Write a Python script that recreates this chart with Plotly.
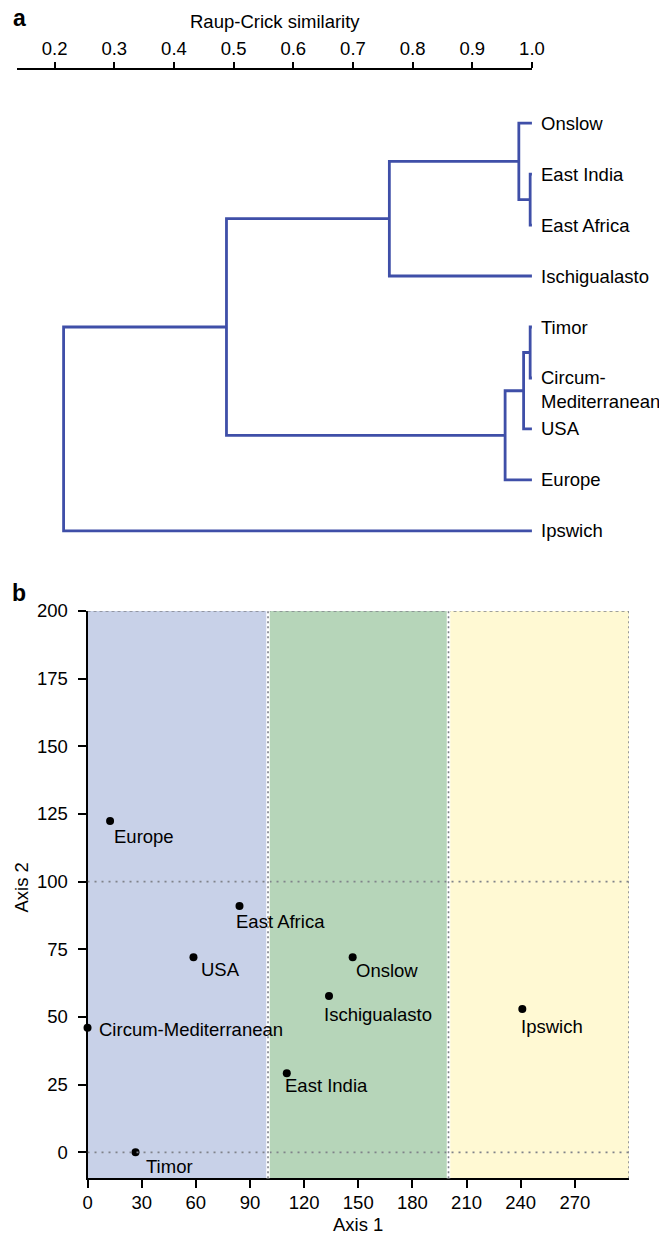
import plotly.graph_objects as go

# The page is photographed with a small fixed offset/scale; positions below are given
# in final picture pixels and converted to page pixels.
SX, OX = 0.973, 3.6
SY, OY = 0.9914, 10.6
FIG_W, FIG_H = 674, 1236
FONT = "Liberation Sans, Arial, Helvetica, sans-serif"
FS = 18.5

# ---------------- Panel a: dendrogram data ----------------
leaf_names = ["Onslow", "East India", "East Africa", "Ischigualasto", "Timor",
              "Circum-Mediterranean", "USA", "Europe", "Ipswich"]
leaf_labels = ["Onslow", "East India", "East Africa", "Ischigualasto", "Timor",
               "Circum-<br>Mediterranean", "USA", "Europe", "Ipswich"]
# linkage: clusters 0..8 are leaves, new clusters numbered from 9
merge_a = [1, 0, 10, 4, 12, 13, 11, 15]
merge_b = [2, 9, 3, 5, 6, 7, 14, 8]
merge_sim = [0.997, 0.978, 0.761, 0.997, 0.986, 0.955, 0.488, 0.215]
sim_ticks = [0.2, 0.3, 0.4, 0.5, 0.6, 0.7, 0.8, 0.9, 1.0]
sim_ticktext = ["0.2", "0.3", "0.4", "0.5", "0.6", "0.7", "0.8", "0.9", "1.0"]

# ---------------- Panel b: ordination data ----------------
ord_names = ["Europe", "East Africa", "USA", "Circum-Mediterranean", "Timor",
             "Onslow", "Ischigualasto", "East India", "Ipswich"]
axis1 = [12.5, 84.2, 58.7, 0.0, 26.6, 146.9, 133.8, 110.4, 240.9]
axis2 = [122.4, 91.0, 72.1, 46.0, 0.0, 72.1, 57.8, 29.2, 53.0]
region_edges = [0, 100, 200, 300]
grid_levels = [0, 100, 200]
x_ticks = [0, 30, 60, 90, 120, 150, 180, 210, 240, 270]
y_ticks = [0, 25, 50, 75, 100, 125, 150, 175, 200]

# styles (not data)
region_colors = ["#C8D1E8", "#B6D5B9", "#FFF9D3"]
label_offsets = {  # (dx px, dy px downward)
    "Europe": (2, 15), "East Africa": (-5, 15), "USA": (5, 12),
    "Circum-Mediterranean": (9, 2), "Timor": (8, 14), "Onslow": (1, 13),
    "Ischigualasto": (-7, 18), "East India": (-4, 12), "Ipswich": (-3, 17),
}


def page_x(t):
    return (t - OX) / SX


def page_y(t):
    return (t - OY) / SY


def fx(t):
    return page_x(t) / FIG_W


def fy(t):
    return 1 - page_y(t) / FIG_H


# ---- dendrogram y range so leaves fall on their rows ----
top_dom, bot_dom = 69.3, 560.0          # picture px
leaf0_px, leaf_step = 122.7, 51.0
step_page = leaf_step / SY
n_leaf = len(leaf_names)
y_top = -(page_y(leaf0_px) - page_y(top_dom)) / step_page
y_bot = (n_leaf - 1) + (page_y(bot_dom) - page_y(leaf0_px + leaf_step * (n_leaf - 1))) / step_page

pos = {i: (1.0, float(i)) for i in range(n_leaf)}
xs, ys = [], []
for k, (a, b, s) in enumerate(zip(merge_a, merge_b, merge_sim)):
    xa, ya = pos[a]
    xb, yb = pos[b]
    xs += [xa, s, s, xb, None]
    ys += [ya, ya, yb, yb, None]
    pos[n_leaf + k] = (s, (ya + yb) / 2)

fig = go.Figure()
fig.add_trace(go.Scatter(x=xs, y=ys, mode="lines",
                         line=dict(color="#3F4FA8", width=2.8),
                         xaxis="x", yaxis="y", hoverinfo="skip", showlegend=False))
fig.add_trace(go.Scatter(x=axis1, y=axis2, mode="markers",
                         marker=dict(color="black", size=8),
                         xaxis="x2", yaxis="y2", cliponaxis=False,
                         text=ord_names, showlegend=False))

tfont = dict(size=FS, color="black", family=FONT)
annotations = []
for i, lab in enumerate(leaf_labels):
    multi = "<br>" in lab
    annotations.append(dict(
        x=1.0, y=i, xref="x", yref="y", text=lab, showarrow=False,
        xanchor="left", yanchor="top" if multi else "middle",
        xshift=6.5 / SX, yshift=(12.8 / SY) if multi else 0,
        align="left", font=tfont))

for n, xv, yv in zip(ord_names, axis1, axis2):
    dx, dy = label_offsets[n]
    annotations.append(dict(
        x=xv, y=yv, xref="x2", yref="y2", text=n, showarrow=False,
        xanchor="left", yanchor="middle", xshift=dx / SX, yshift=-dy / SY,
        font=tfont))

annotations += [
    dict(x=fx(273.4), y=fy(21.0), xref="paper", yref="paper",
         text="Raup-Crick similarity", showarrow=False, xanchor="center", yanchor="middle",
         font=tfont),
    dict(x=fx(356.5), y=fy(1224), xref="paper", yref="paper",
         text="Axis 1", showarrow=False, xanchor="center", yanchor="middle", font=tfont),
    dict(x=fx(20), y=fy(887), xref="paper", yref="paper",
         text="Axis 2", showarrow=False, xanchor="center", yanchor="middle", textangle=-90,
         font=tfont),
    dict(x=fx(10), y=fy(18), xref="paper", yref="paper",
         text="<b>a</b>", showarrow=False, xanchor="left", yanchor="middle",
         font=dict(size=23, color="black", family=FONT)),
    dict(x=fx(9), y=fy(593), xref="paper", yref="paper",
         text="<b>b</b>", showarrow=False, xanchor="left", yanchor="middle",
         font=dict(size=23, color="black", family=FONT)),
]

shapes = []
for x0, x1, c in zip(region_edges[:-1], region_edges[1:], region_colors):
    shapes.append(dict(type="rect", xref="x2", yref="y2 domain", x0=x0, x1=x1, y0=0, y1=1,
                       fillcolor=c, line=dict(width=0), layer="below"))
for lv in grid_levels:
    shapes.append(dict(type="line", xref="x2", yref="y2", x0=region_edges[0], x1=region_edges[-1],
                       y0=lv, y1=lv, layer="above",
                       line=dict(color="#80838a", width=1.6,
                                 dash="3px,3px" if lv == grid_levels[-1] else "2px,5px")))
for e in region_edges[1:-1]:
    shapes.append(dict(type="line", xref="x2", yref="y2 domain", x0=e, x1=e, y0=0, y1=1,
                       layer="above", line=dict(color="white", width=3.5)))
for e in region_edges[1:]:
    shapes.append(dict(type="line", xref="x2", yref="y2 domain", x0=e, x1=e, y0=0, y1=1,
                       layer="above", line=dict(color="#80838a", width=1.6, dash="2px,3px")))

axis_font = dict(size=FS, color="black", family=FONT)
fig.update_layout(
    width=FIG_W, height=FIG_H, margin=dict(l=0, r=0, t=0, b=0),
    paper_bgcolor="white", plot_bgcolor="rgba(0,0,0,0)",
    showlegend=False, font=dict(family=FONT, color="black"),
    annotations=annotations, shapes=shapes,
    xaxis=dict(domain=[fx(16), fx(530.4)], range=[0.1376, 1.0], side="top", anchor="y",
               tickvals=sim_ticks, ticktext=sim_ticktext, ticks="outside", ticklen=6,
               tickwidth=2, tickcolor="black", showline=True, linecolor="black", linewidth=2,
               showgrid=False, zeroline=False, tickfont=axis_font, ticklabelstandoff=-1,
               fixedrange=True),
    yaxis=dict(domain=[fy(bot_dom), fy(top_dom)], range=[y_bot, y_top], anchor="x",
               visible=False, showgrid=False, zeroline=False, fixedrange=True),
    xaxis2=dict(domain=[fx(86.1), fx(627.4)], range=[0, 300], anchor="y2",
                tickvals=x_ticks, ticks="outside", ticklen=8, tickwidth=2, tickcolor="black",
                showline=True, linecolor="black", linewidth=2, showgrid=False, zeroline=False,
                tickfont=axis_font, ticklabelstandoff=-2, fixedrange=True),
    yaxis2=dict(domain=[fy(1178.3), fy(610.7)], range=[-9.6, 200], anchor="x2",
                tickvals=y_ticks, ticks="outside", ticklen=8, tickwidth=2, tickcolor="black",
                showline=True, linecolor="black", linewidth=2, showgrid=False, zeroline=False,
                tickfont=axis_font, ticklabelstandoff=6, fixedrange=True),
)

fig.write_html("out.html", config={"displayModeBar": False},
               post_script="document.body.style.margin='0px';"
                           "document.body.style.overflow='hidden';")
